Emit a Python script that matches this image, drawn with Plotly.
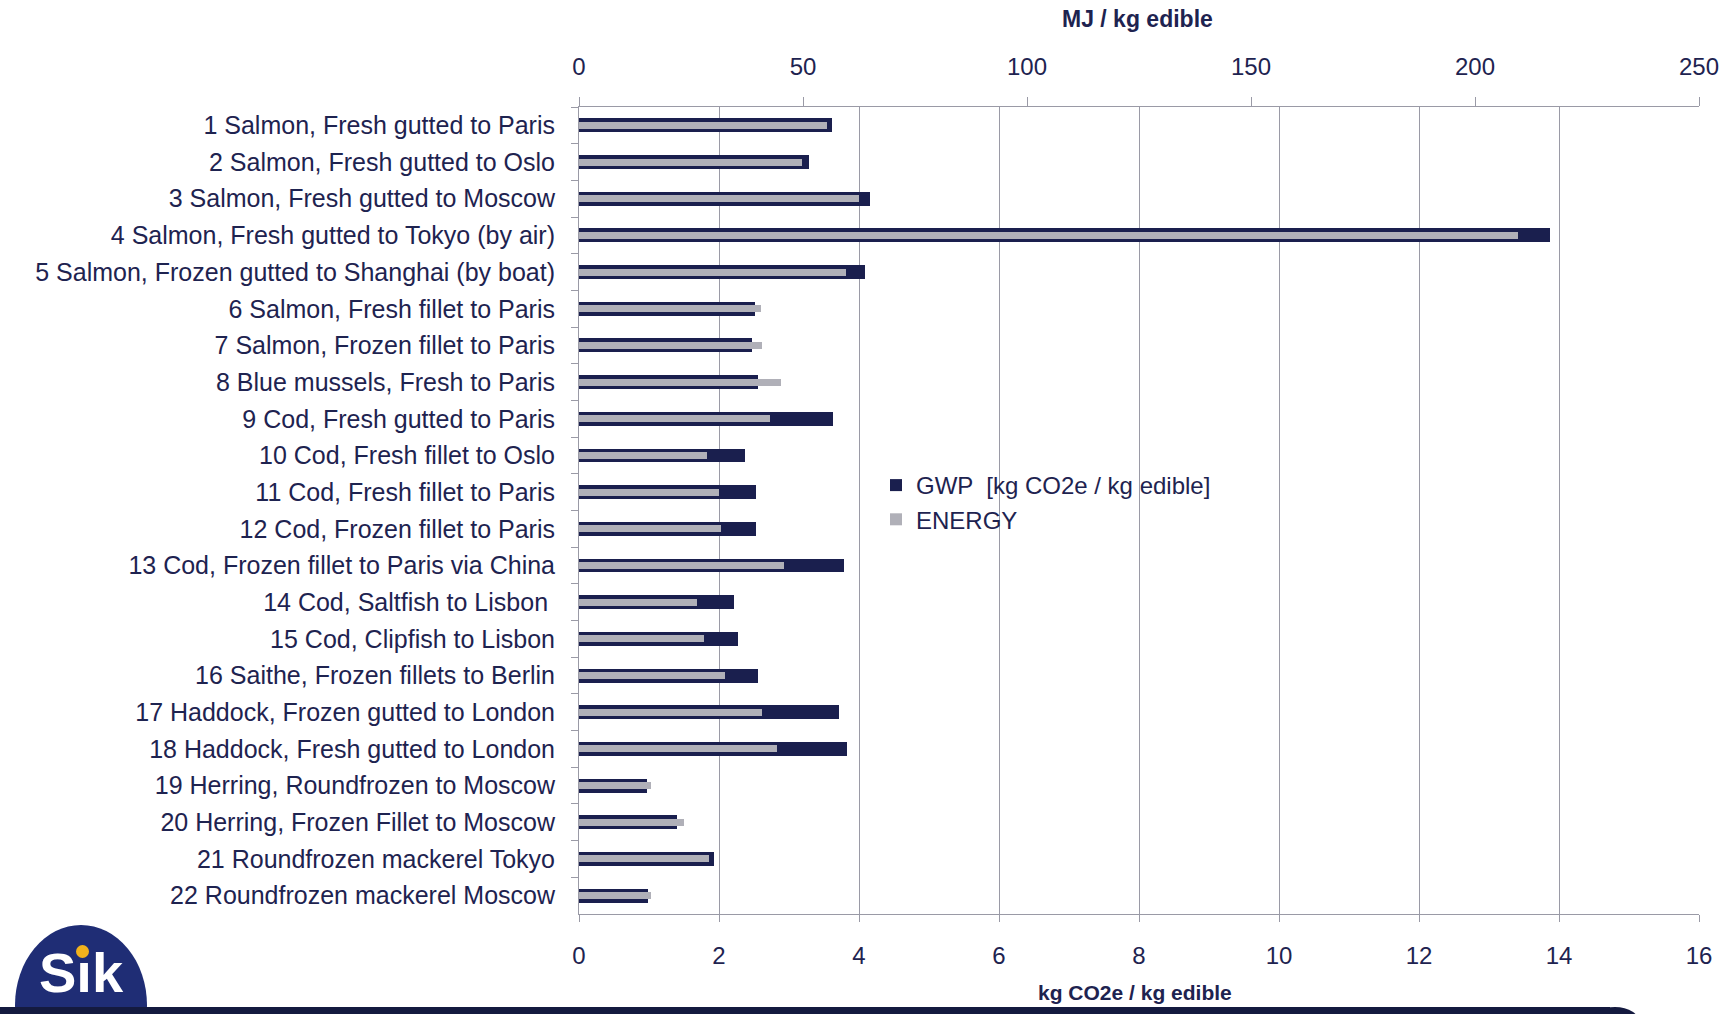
import plotly.graph_objects as go

categories = [
    "1 Salmon, Fresh gutted to Paris",
    "2 Salmon, Fresh gutted to Oslo",
    "3 Salmon, Fresh gutted to Moscow",
    "4 Salmon, Fresh gutted to Tokyo (by air)",
    "5 Salmon, Frozen gutted to Shanghai (by boat)",
    "6 Salmon, Fresh fillet to Paris",
    "7 Salmon, Frozen fillet to Paris",
    "8 Blue mussels, Fresh to Paris",
    "9 Cod, Fresh gutted to Paris",
    "10 Cod, Fresh fillet to Oslo",
    "11 Cod, Fresh fillet to Paris",
    "12 Cod, Frozen fillet to Paris",
    "13 Cod, Frozen fillet to Paris via China",
    "14 Cod, Saltfish to Lisbon ",
    "15 Cod, Clipfish to Lisbon",
    "16 Saithe, Frozen fillets to Berlin",
    "17 Haddock, Frozen gutted to London",
    "18 Haddock, Fresh gutted to London",
    "19 Herring, Roundfrozen to Moscow",
    "20 Herring, Frozen Fillet to Moscow",
    "21 Roundfrozen mackerel Tokyo",
    "22 Roundfrozen mackerel Moscow",
]
gwp = [3.61, 3.29, 4.15, 13.87, 4.08, 2.51, 2.47, 2.55, 3.63, 2.37, 2.53, 2.53,
       3.79, 2.21, 2.27, 2.55, 3.72, 3.83, 0.97, 1.40, 1.93, 0.98]
energy = [55.3, 49.8, 62.4, 209.7, 59.5, 40.7, 40.8, 45.0, 42.7, 28.5, 31.3, 31.7,
          45.8, 26.4, 28.0, 32.5, 40.8, 44.3, 16.1, 23.5, 29.0, 16.0]
gwp_ticks = [0, 2, 4, 6, 8, 10, 12, 14, 16]
energy_ticks = [0, 50, 100, 150, 200, 250]

W, H = 1731, 1014
L, R, T, B = 579, 32, 107, 100
PW, PH = W - L - R, H - T - B

def px(x):
    return (x - L) / PW

def py(y):
    return (H - B - y) / PH

NAVY = "#1a1f4e"
GRAY = "#b0b0b8"
AXC = "#9a9aa6"
TXT = "#1e2350"
FONT = "Liberation Sans, Arial, sans-serif"
FS = 24

fig = go.Figure()
fig.add_trace(go.Bar(
    y=categories, x=gwp, orientation="h", name="GWP  [kg CO2e / kg edible]",
    marker=dict(color=NAVY, line=dict(width=0)), width=0.38, xaxis="x", yaxis="y",
))
fig.add_trace(go.Bar(
    y=categories, x=energy, orientation="h", name="ENERGY",
    marker=dict(color=GRAY, line=dict(width=0)), width=0.19, xaxis="x2", yaxis="y",
))

fig.update_layout(
    width=W, height=H,
    margin=dict(l=L, r=R, t=T, b=B, pad=0),
    paper_bgcolor="white", plot_bgcolor="white",
    barmode="overlay",
    font=dict(family=FONT, size=FS, color=TXT),
    xaxis=dict(
        range=[0, 16], tickvals=gwp_ticks, showgrid=True, gridcolor=AXC, gridwidth=1,
        showline=True, linecolor=AXC, linewidth=1, ticks="outside", ticklen=7,
        tickcolor=AXC, ticklabelstandoff=13, zeroline=False,
        tickfont=dict(size=FS, color=TXT),
    ),
    xaxis2=dict(
        range=[0, 250], tickvals=energy_ticks, overlaying="x", side="top", showgrid=False,
        showline=True, linecolor=AXC, linewidth=1, ticks="outside", ticklen=9,
        tickcolor=AXC, ticklabelstandoff=12, zeroline=False,
        tickfont=dict(size=FS, color=TXT),
    ),
    yaxis=dict(
        autorange="reversed", type="category", showline=True, linecolor=AXC,
        linewidth=1, ticks="outside", ticklen=7, tickson="boundaries", tickcolor=AXC,
        showgrid=False, ticklabelstandoff=18, tickfont=dict(size=25, color=TXT),
    ),
    legend=dict(
        x=px(876), y=py(463), xanchor="left", yanchor="top", bgcolor="rgba(0,0,0,0)",
        font=dict(size=FS, color=TXT), itemwidth=30, tracegroupgap=0,
    ),
    bargap=0,
)

annotations = [
    dict(text="<b>MJ / kg edible</b>", x=px(1137), y=py(19), xref="paper", yref="paper",
         showarrow=False, font=dict(size=23, color=TXT), xanchor="center", yanchor="middle"),
    dict(text="<b>kg CO2e / kg edible</b>", x=px(1135), y=py(993), xref="paper", yref="paper",
         showarrow=False, font=dict(size=21, color=TXT), xanchor="center", yanchor="middle"),
    dict(text="<b>S\u0131k</b>", x=px(81), y=py(972), xref="paper", yref="paper",
         showarrow=False, font=dict(size=56, color="white"), xanchor="center", yanchor="middle"),
]
fig.update_layout(annotations=annotations)

shapes = [
    dict(type="circle", xref="paper", yref="paper", x0=px(15), x1=px(147), y0=py(925), y1=py(1085),
         fillcolor="#1f2d75", line=dict(width=0), layer="below"),
    dict(type="circle", xref="paper", yref="paper", x0=px(76), x1=px(89), y0=py(945), y1=py(958),
         fillcolor="#f2b21c", line=dict(width=0), layer="above"),
    dict(type="rect", xref="paper", yref="paper", x0=px(0), x1=px(1610), y0=py(1007), y1=py(1020),
         fillcolor="#141a3f", line=dict(width=0), layer="above"),
    dict(type="circle", xref="paper", yref="paper", x0=px(1590), x1=px(1640), y0=py(1007), y1=py(1040),
         fillcolor="#141a3f", line=dict(width=0), layer="above"),
]
fig.update_layout(shapes=shapes)

fig.write_html(
    "out.html",
    config={"displayModeBar": False},
    post_script="document.body.style.margin='0';document.documentElement.style.overflow='hidden';document.body.style.overflow='hidden';",
)
